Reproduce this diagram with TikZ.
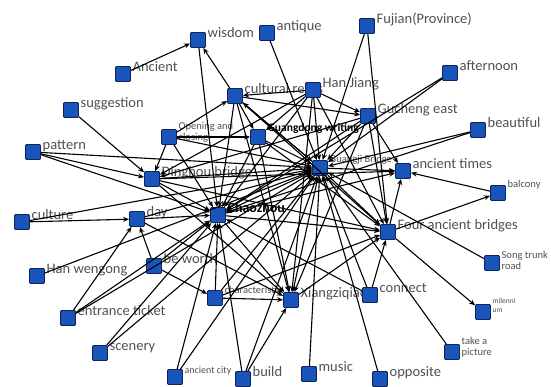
\documentclass[tikz,border=0pt]{standalone}
\usepackage{fontspec}
\setmainfont{Carlito}
\usetikzlibrary{arrows.meta}
\definecolor{nodeblue}{RGB}{24,84,186}
\definecolor{nodeline}{RGB}{14,36,92}
\definecolor{labgray}{RGB}{80,80,80}
\begin{document}
\begin{tikzpicture}[x=1pt,y=-1pt,
    sq/.style={draw=nodeline,fill=nodeblue,line width=0.9pt,rounded corners=1pt,
      minimum size=15pt,inner sep=0pt},
    lbl/.style={text=labgray,font=\fontsize{14.5}{16}\selectfont,inner sep=0pt,
      anchor=base west,xshift=1.5pt,yshift=2.5pt},
    sml/.style={lbl,font=\fontsize{10.5}{11}\selectfont,yshift=2.5pt},
    hub/.style={lbl,text=black,font=\fontsize{#1}{#1}\selectfont\bfseries}]
  \useasboundingbox (0,0) rectangle (551,387);
  \path
    (198,40) node[sq,label={[lbl]right:wisdom}] (wis) {}
    (267,33) node[sq,label={[lbl]right:antique}] (antq) {}
    (123,74) node[sq,label={[lbl]right:Ancient}] (anc) {}
    (71,110) node[sq,label={[lbl]right:suggestion}] (sugg) {}
    (33,152) node[sq,label={[lbl]right:pattern}] (patt) {}
    (235,96) node[sq,label={[lbl]right:cultural relics}] (rel) {}
    (169,137) node[sq,label={[sml,align=left,anchor=west]right:{Opening and\\closing}}] (open) {}
    (258,137) node[sq,label={[hub=11.5,yshift=3pt]right:Guangdong writing}] (gdw) {}
    (152,179) node[sq,label={[lbl]right:Dinghou bridge}] (dhb) {}
    (367,26) node[sq,label={[lbl]right:Fujian(Province)}] (fuj) {}
    (313,90) node[sq,label={[lbl]right:Han Jiang}] (hj) {}
    (450,73) node[sq,label={[lbl]right:afternoon}] (aft) {}
    (368,116) node[sq,label={[lbl]right:Gucheng east}] (gce) {}
    (478,130) node[sq,label={[lbl]right:beautiful}] (beau) {}
    (320,168) node[sq,label={[sml]right:Guangji Bridge}] (gjb) {}
    (403,171) node[sq,label={[lbl]right:ancient times}] (atimes) {}
    (498,193) node[sq,label={[sml]right:balcony}] (balc) {}
    (22,222) node[sq,label={[lbl]right:culture}] (cult) {}
    (137,219) node[sq,label={[lbl]right:day}] (day) {}
    (218,215) node[sq,label={[hub=14]right:Chaozhou}] (czh) {}
    (37,276) node[sq,label={[lbl]right:Han wengong}] (hwg) {}
    (154,266) node[sq,label={[lbl]right:be worth}] (worth) {}
    (215,298) node[sq,label={[sml]right:characteristic}] (char) {}
    (68,318) node[sq,label={[lbl]right:entrance ticket}] (tick) {}
    (100,353) node[sq,label={[lbl]right:scenery}] (scen) {}
    (175,377) node[sq,label={[sml,font=\fontsize{10}{11}\selectfont,yshift=-1pt]right:ancient city}] (acity) {}
    (243,379) node[sq,label={[lbl]right:build}] (build) {}
    (388,232) node[sq,label={[lbl]right:Four ancient bridges}] (fab) {}
    (492,263) node[sq,label={[sml,align=left,anchor=west,yshift=-2pt]right:{Song trunk\\road}}] (song) {}
    (291,300) node[sq,label={[lbl]right:Xiangziqiao}] (xzq) {}
    (370,295) node[sq,label={[lbl]right:connect}] (conn) {}
    (483,312) node[sq,label={[sml,font=\fontsize{7.5}{9}\selectfont,align=left,anchor=west,yshift=2pt]right:{milenni\\um}}] (mill) {}
    (452,352) node[sq,label={[sml,align=left,anchor=west]right:{take a\\picture}}] (pic) {}
    (309,374) node[sq,label={[lbl]right:music}] (music) {}
    (380,379) node[sq,label={[lbl]right:opposite}] (opp) {};
  \begin{scope}[->,>={Stealth[length=6pt,width=5pt]},line width=1.1pt]
    \draw (anc) to (wis);
    \draw (rel) to (wis);
    \draw (wis) to (czh);
    \draw (antq) to (gjb);
    \draw (fuj) to (gjb);
    \draw (fuj) to (fab);
    \draw (aft) to (gjb);
    \draw (aft) to (czh);
    \draw (beau) to (gjb);
    \draw (beau) to (czh);
    \draw (balc) to (atimes);
    \draw (fab) to (balc);
    \draw (song) to (gjb);
    \draw (fab) to (mill);
    \draw (pic) to (gjb);
    \draw (conn) to (fab);
    \draw (conn) to (gjb);
    \draw (conn) to (czh);
    \draw (opp) to (gjb);
    \draw (music) to (gjb);
    \draw (build) to (czh);
    \draw (build) to (gjb);
    \draw (build) to (xzq);
    \draw (acity) to (czh);
    \draw (acity) to (gjb);
    \draw (scen) to (czh);
    \draw (scen) to (gjb);
    \draw (tick) to (day);
    \draw (tick) to (czh);
    \draw (tick) to (gjb);
    \draw (hwg) to (gjb);
    \draw (worth) to (day);
    \draw (worth) to (char);
    \draw (worth) to (czh);
    \draw (cult) to (day);
    \draw (cult) to (gjb);
    \draw (patt) to (dhb);
    \draw (patt) to (czh);
    \draw (patt) to (gjb);
    \draw (sugg) to (dhb);
    \draw (open) to (rel);
    \draw (open) to (gdw);
    \draw (open) to (dhb);
    \draw (open) to (czh);
    \draw (open) to (gjb);
    \draw (rel) to (gdw);
    \draw (rel) to (gce);
    \draw (rel) to (gjb);
    \draw (rel) to (czh);
    \draw (rel) to (fab);
    \draw (rel) to (xzq);
    \draw (gjb) to (rel);
    \draw (hj) to (rel);
    \draw (hj) to (gdw);
    \draw (hj) to (gce);
    \draw (hj) to (czh);
    \draw (hj) to (dhb);
    \draw (hj) to (gjb);
    \draw (hj) to (fab);
    \draw (hj) to (xzq);
    \draw (gdw) to (gjb);
    \draw (gdw) to (czh);
    \draw (gdw) to (xzq);
    \draw (gdw) to (fab);
    \draw (gce) to (gjb);
    \draw (gce) to (czh);
    \draw (gce) to (fab);
    \draw (gce) to (xzq);
    \draw (gce) to (dhb);
    \draw (gce) to (atimes);
    \draw (dhb) to (czh);
    \draw (dhb) to (gjb);
    \draw (dhb) to (xzq);
    \draw (dhb) to (fab);
    \draw (dhb) to (atimes);
    \draw (day) to (czh);
    \draw (day) to (gjb);
    \draw (day) to (xzq);
    \draw (czh) to (gjb);
    \draw (czh) to (fab);
    \draw (czh) to (xzq);
    \draw (czh) to (atimes);
    \draw (gjb) to (fab);
    \draw (gjb) to (xzq);
    \draw (gjb) to (atimes);
    \draw (fab) to (atimes);
    \draw (char) to (czh);
    \draw (char) to (gjb);
    \draw (char) to (fab);
    \draw (char) to (xzq);
    \draw (xzq) to (fab);
  \end{scope}
\end{tikzpicture}
\end{document}
